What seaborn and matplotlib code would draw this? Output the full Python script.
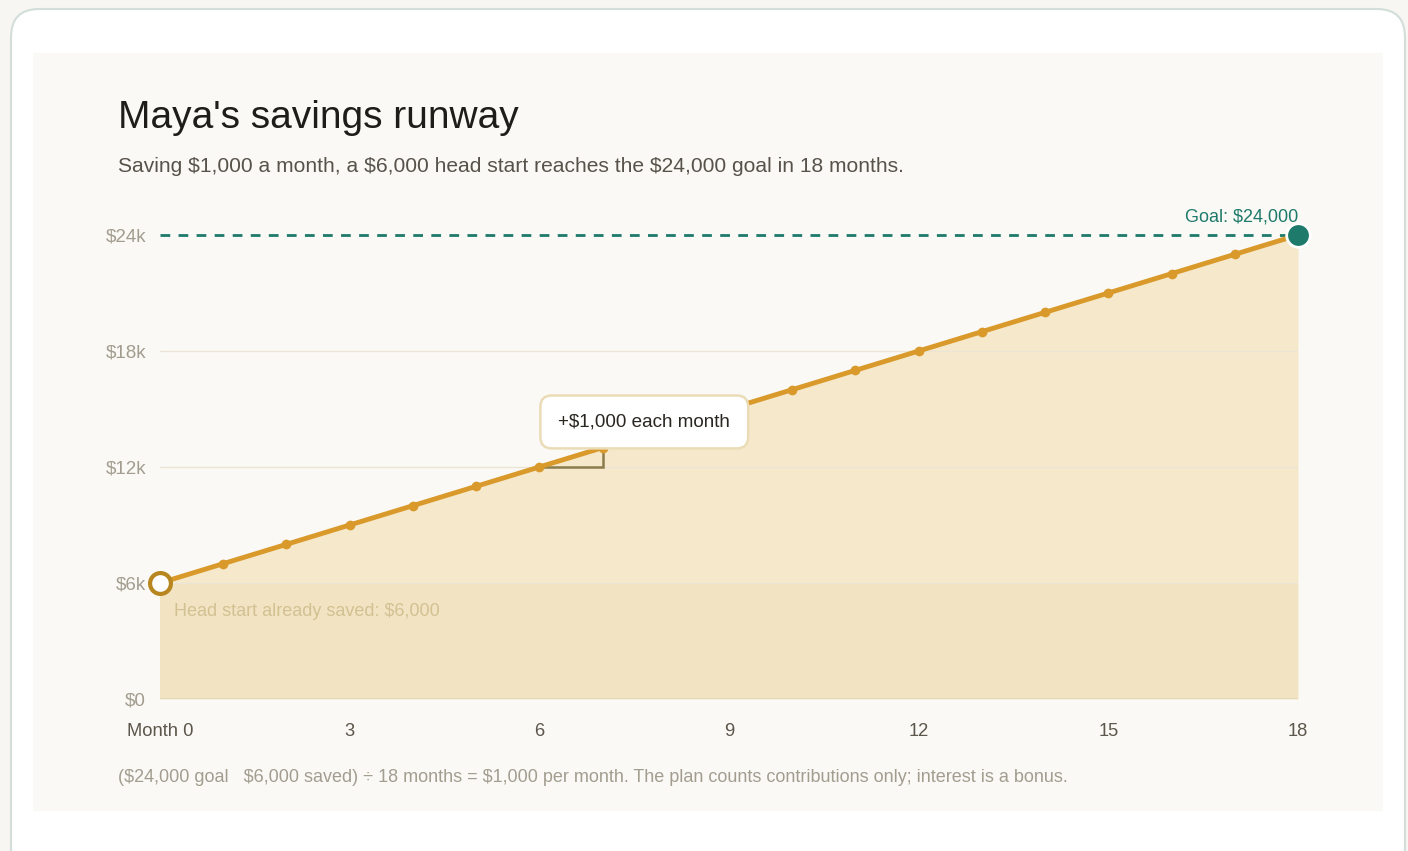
import matplotlib
matplotlib.use("Agg")
import matplotlib.pyplot as plt
from matplotlib.patches import FancyBboxPatch, Rectangle
import seaborn as sns
import pandas as pd

# ---- data ----
months = [0, 1, 2, 3, 4, 5, 6, 7, 8, 9, 10, 11, 12, 13, 14, 15, 16, 17, 18]
balance = [6000, 7000, 8000, 9000, 10000, 11000, 12000, 13000, 14000, 15000,
           16000, 17000, 18000, 19000, 20000, 21000, 22000, 23000, 24000]
goal = 24000
head_start = 6000
y_ticks = [0, 6000, 12000, 18000, 24000]
y_tick_labels = ["$0", "$6k", "$12k", "$18k", "$24k"]
x_ticks = [0, 3, 6, 9, 12, 15, 18]
x_tick_labels = ["Month 0", "3", "6", "9", "12", "15", "18"]
title = "Maya's savings runway"
subtitle = "Saving $1,000 a month, a $6,000 head start reaches the $24,000 goal in 18 months."
footnote = "($24,000 goal   $6,000 saved) ÷ 18 months = $1,000 per month. The plan counts contributions only; interest is a bonus."
step_month = 6

df = pd.DataFrame({"month": months, "balance": balance})

sns.set_theme(style="white")
plt.rcParams["font.family"] = ["Liberation Sans", "DejaVu Sans"]

W, H = 1408, 851
fig = plt.figure(figsize=(W / 100, H / 100), dpi=100)
fig.patch.set_facecolor("#f7f6f2")

def fx(px):
    return px / W

def fy(py):
    return 1 - py / H

# card
card = FancyBboxPatch((fx(11), fy(880)), fx(1405) - fx(11), fy(9) - fy(880),
                      boxstyle="round,pad=0,rounding_size=0.02",
                      transform=fig.transFigure, facecolor="white",
                      edgecolor="#d3deda", linewidth=1.5, zorder=0,
                      mutation_aspect=W / H)
fig.patches.append(card)
panel = Rectangle((fx(33), fy(811)), fx(1383) - fx(33), fy(53) - fy(811),
                  transform=fig.transFigure, facecolor="#faf9f5",
                  edgecolor="none", zorder=0.5)
fig.patches.append(panel)

ax = fig.add_axes([fx(160), fy(699), fx(1298) - fx(160), fy(235) - fy(699)])
ax.set_zorder(2)
ax.set_facecolor("none")
ax.set_xlim(0, 18)
ax.set_ylim(0, 24000)

# fills
ax.fill_between(df["month"], df["balance"], 0, color="#f6e9cb", linewidth=0, zorder=1)
ax.fill_between([months[0], months[-1]], [head_start, head_start], 0,
                color="#f2e4c2", linewidth=0, zorder=1.2)

# grid
for v in y_ticks[1:-1]:
    ax.axhline(v, color="#ebe5d6", linewidth=1, zorder=1.5)
ax.axhline(0, color="#e4d8b8", linewidth=1.5, zorder=1.5)

# goal line
ax.plot([0, 18], [goal, goal], color="#1e7a6a", linewidth=2, linestyle=(0, (3.5, 3)),
        zorder=2, clip_on=False)

# main line
sns.lineplot(data=df, x="month", y="balance", ax=ax, color="#d9992b", linewidth=3.5,
             marker="o", markersize=7, markeredgewidth=0, zorder=3, clip_on=False)

# start / end markers
ax.plot([months[0]], [balance[0]], marker="o", markersize=15, markerfacecolor="white",
        markeredgecolor="#b8861f", markeredgewidth=3, zorder=5, clip_on=False)
ax.plot([months[-1]], [balance[-1]], marker="o", markersize=17, markerfacecolor="#1e7a6a",
        markeredgecolor="white", markeredgewidth=2, zorder=5, clip_on=False)

# step bracket
i = months.index(step_month)
ax.plot([months[i], months[i + 1], months[i + 1]],
        [balance[i], balance[i], balance[i + 1]],
        color="#8c7c4c", linewidth=1.8, zorder=2.5, solid_joinstyle="miter")

# annotation
ax.text(7.66, 14330, "+$1,000 each month", ha="center", va="center", fontsize=13.6,
        color="#2a2620", zorder=6,
        bbox=dict(boxstyle="round,pad=0.95,rounding_size=0.6", facecolor="white",
                  edgecolor="#eadcb6", linewidth=1.8))

# goal label
ax.text(18, goal + 500, "Goal: $24,000", ha="right", va="bottom", fontsize=13,
        color="#1e7a6a")

# head start label
ax.text(0.22, head_start - 1500, "Head start already saved: $6,000", ha="left",
        va="center", fontsize=13, color="#d3c193", zorder=4)

# ticks
ax.set_yticks(y_ticks)
ax.set_yticklabels(y_tick_labels, fontsize=13.5, color="#a39d90")
ax.set_xticks(x_ticks)
ax.set_xticklabels(x_tick_labels, fontsize=13.2, color="#5c564c")
ax.tick_params(axis="y", length=0, pad=10)
ax.tick_params(axis="x", length=0, pad=17)
for s in ax.spines.values():
    s.set_visible(False)
ax.set_xlabel("")
ax.set_ylabel("")

# titles
fig.text(fx(118), fy(118), title, ha="left", va="center", fontsize=28, color="#1f1d1a")
fig.text(fx(118), fy(166), subtitle, ha="left", va="center", fontsize=15.1, color="#57524a")
fig.text(fx(118), fy(777), footnote, ha="left", va="center", fontsize=13, color="#a39d90")

fig.savefig("out.png", dpi=100, facecolor=fig.get_facecolor())
